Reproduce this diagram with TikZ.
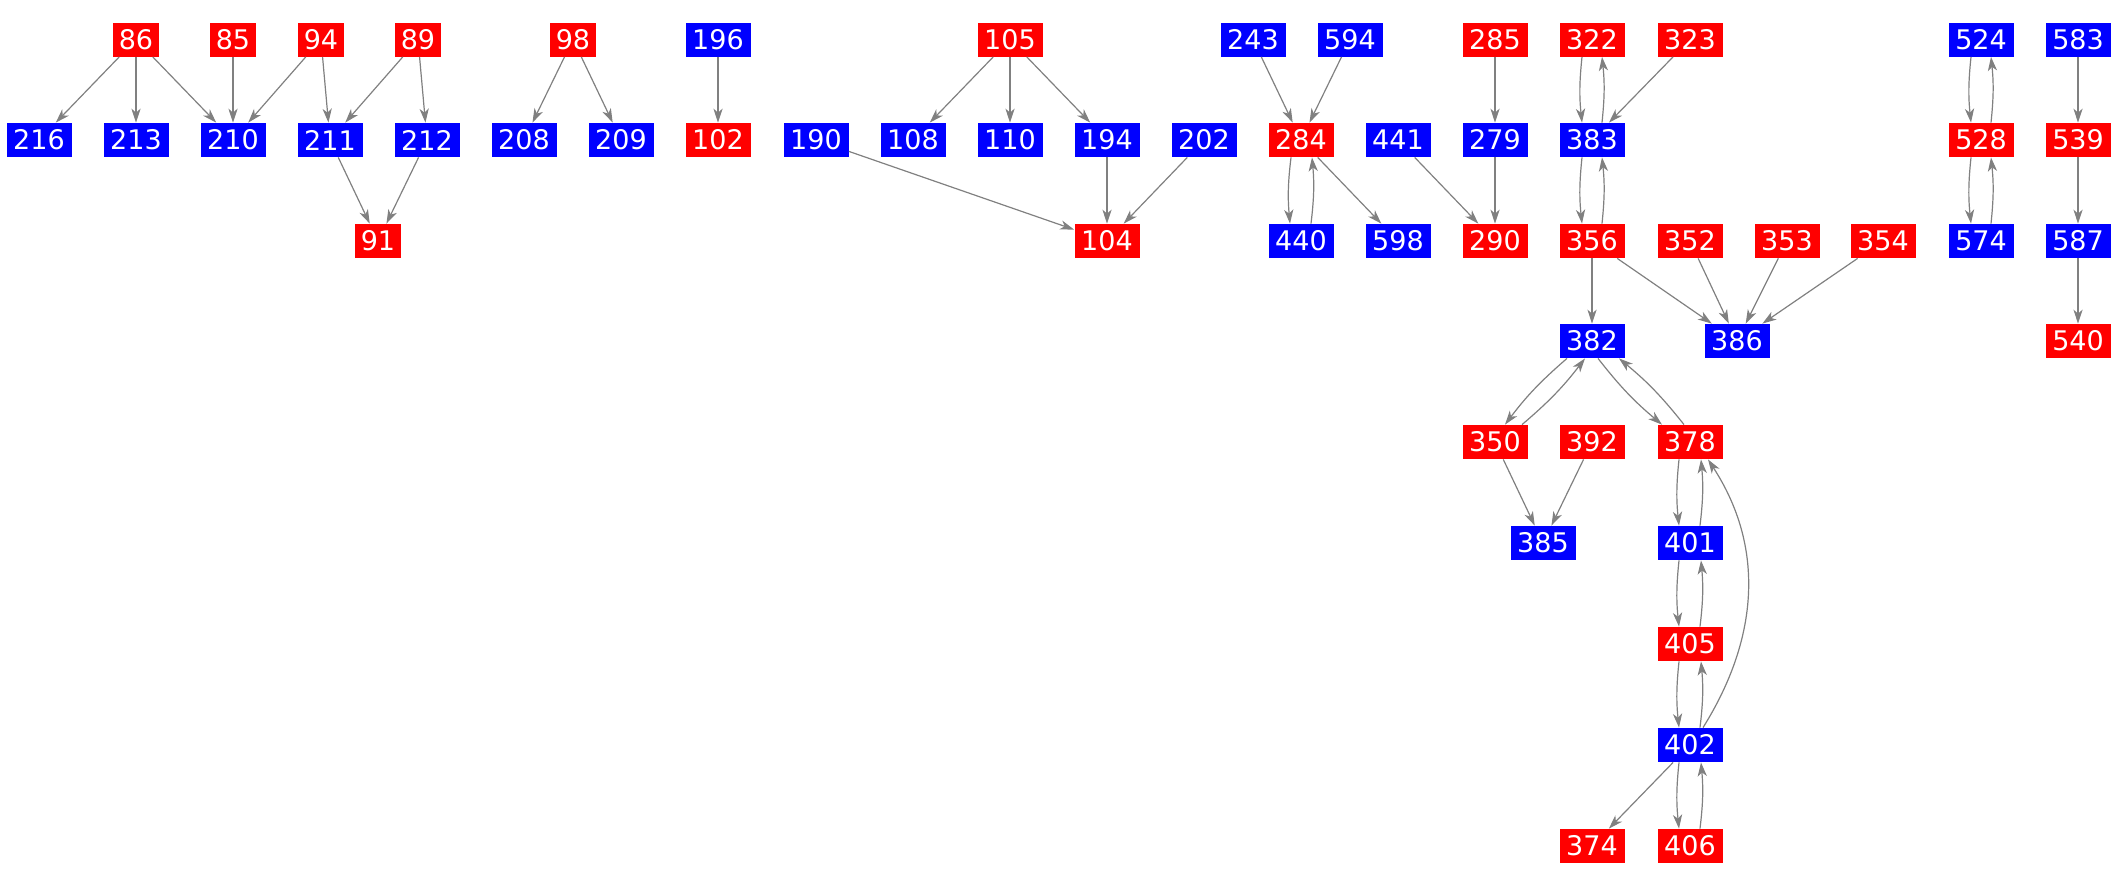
\documentclass[tikz,border=0pt]{standalone}
\usepackage{fontspec}
\setmainfont{DejaVu Sans}
\usetikzlibrary{arrows.meta}
\begin{document}
\begin{tikzpicture}[x=0.5pt,y=-0.5pt,
  box/.style={rectangle, text=white, minimum height=17pt, minimum width=32.5pt, inner sep=0pt, font=\fontsize{13.5}{14}\selectfont},
  nr/.style={box, fill=red},
  nb/.style={box, fill=blue},
  w2/.style={minimum width=23pt},
  e/.style={draw=gray, line width=0.6pt, -{Stealth[length=7pt,width=4.6pt,inset=2pt]}},
  pr/.style={e, bend right=6}]
\useasboundingbox (0,0) rectangle (2117,885);
% row 1
\node[nr,w2] (n86) at (136,39.5) {86};
\node[nr,w2] (n85) at (233,39.5) {85};
\node[nr,w2] (n94) at (321,39.5) {94};
\node[nr,w2] (n89) at (418,39.5) {89};
\node[nr,w2] (n98) at (573,39.5) {98};
\node[nb] (n196) at (718,39.5) {196};
\node[nr] (n105) at (1010,39.5) {105};
\node[nb] (n243) at (1253,39.5) {243};
\node[nb] (n594) at (1350,39.5) {594};
\node[nr] (n285) at (1495,39.5) {285};
\node[nr] (n322) at (1592,39.5) {322};
\node[nr] (n323) at (1690,39.5) {323};
\node[nb] (n524) at (1981,39.5) {524};
\node[nb] (n583) at (2078,39.5) {583};
% row 2
\node[nb] (n216) at (39,140) {216};
\node[nb] (n213) at (136,140) {213};
\node[nb] (n210) at (233,140) {210};
\node[nb] (n211) at (330,140) {211};
\node[nb] (n212) at (427,140) {212};
\node[nb] (n208) at (524,140) {208};
\node[nb] (n209) at (621,140) {209};
\node[nr] (n102) at (718,140) {102};
\node[nb] (n190) at (816,140) {190};
\node[nb] (n108) at (913,140) {108};
\node[nb] (n110) at (1010,140) {110};
\node[nb] (n194) at (1107,140) {194};
\node[nb] (n202) at (1204,140) {202};
\node[nr] (n284) at (1301,140) {284};
\node[nb] (n441) at (1398,140) {441};
\node[nb] (n279) at (1495,140) {279};
\node[nb] (n383) at (1592,140) {383};
\node[nr] (n528) at (1981,140) {528};
\node[nr] (n539) at (2078,140) {539};
% row 3
\node[nr,w2] (n91) at (378,241) {91};
\node[nr] (n104) at (1107,241) {104};
\node[nb] (n440) at (1301,241) {440};
\node[nb] (n598) at (1398,241) {598};
\node[nr] (n290) at (1495,241) {290};
\node[nr] (n356) at (1592,241) {356};
\node[nr] (n352) at (1690,241) {352};
\node[nr] (n353) at (1787,241) {353};
\node[nr] (n354) at (1883,241) {354};
\node[nb] (n574) at (1981,241) {574};
\node[nb] (n587) at (2078,241) {587};
% row 4
\node[nb] (n382) at (1592,341) {382};
\node[nb] (n386) at (1737,341) {386};
\node[nr] (n540) at (2078,341) {540};
% row 5
\node[nr] (n350) at (1495,442) {350};
\node[nr] (n392) at (1592,442) {392};
\node[nr] (n378) at (1690,442) {378};
% row 6
\node[nb] (n385) at (1543,543) {385};
\node[nb] (n401) at (1690,543) {401};
% row 7
\node[nr] (n405) at (1690,644) {405};
% row 8
\node[nb] (n402) at (1690,745) {402};
% row 9
\node[nr] (n374) at (1592,846) {374};
\node[nr] (n406) at (1690,846) {406};
% edges
\draw[e] (n86) -- (n216);
\draw[e] (n86) -- (n213);
\draw[e] (n86) -- (n210);
\draw[e] (n85) -- (n210);
\draw[e] (n94) -- (n210);
\draw[e] (n94) -- (n211);
\draw[e] (n89) -- (n211);
\draw[e] (n89) -- (n212);
\draw[e] (n211) -- (n91);
\draw[e] (n212) -- (n91);
\draw[e] (n98) -- (n208);
\draw[e] (n98) -- (n209);
\draw[e] (n196) -- (n102);
\draw[e] (n105) -- (n108);
\draw[e] (n105) -- (n110);
\draw[e] (n105) -- (n194);
\draw[e] (n190) -- (n104);
\draw[e] (n194) -- (n104);
\draw[e] (n202) -- (n104);
\draw[e] (n243) -- (n284);
\draw[e] (n594) -- (n284);
\draw[pr] ([xshift=-5pt]n284.south) to ([xshift=-5.5pt]n440.north);
\draw[pr] ([xshift=5pt]n440.north) to ([xshift=5.5pt]n284.south);
\draw[e] (n284) -- (n598);
\draw[e] (n285) -- (n279);
\draw[e] (n279) -- (n290);
\draw[e] (n441) -- (n290);
\draw[pr] ([xshift=-5pt]n322.south) to ([xshift=-5pt]n383.north);
\draw[pr] ([xshift=5pt]n383.north) to ([xshift=5pt]n322.south);
\draw[e] (n323) -- (n383);
\draw[pr] ([xshift=-5pt]n383.south) to ([xshift=-5pt]n356.north);
\draw[pr] ([xshift=5pt]n356.north) to ([xshift=5pt]n383.south);
\draw[e] (n356) -- (n382);
\draw[e] (n356) -- (n386);
\draw[e] (n352) -- (n386);
\draw[e] (n353) -- (n386);
\draw[e] (n354) -- (n386);
\draw[pr] ([xshift=-12.5pt]n382.south) to ([xshift=5pt]n350.north);
\draw[pr] ([xshift=13.5pt]n350.north) to ([xshift=-3.5pt]n382.south);
\draw[pr] ([xshift=3pt]n382.south) to ([xshift=-14pt]n378.north);
\draw[pr] ([xshift=-3pt]n378.north) to ([xshift=13.5pt]n382.south);
\draw[e] (n350) -- (n385);
\draw[e] (n392) -- (n385);
\draw[pr] ([xshift=-5.5pt]n378.south) to ([xshift=-5.5pt]n401.north);
\draw[pr] ([xshift=5pt]n401.north) to ([xshift=5.5pt]n378.south);
\draw[pr] ([xshift=-5.5pt]n401.south) to ([xshift=-5.5pt]n405.north);
\draw[pr] ([xshift=5pt]n405.north) to ([xshift=5.5pt]n401.south);
\draw[pr] ([xshift=-5.5pt]n405.south) to ([xshift=-5.5pt]n402.north);
\draw[pr] ([xshift=5pt]n402.north) to ([xshift=5.5pt]n405.south);
\draw[e] ([xshift=6.5pt]n402.north) to[out=58,in=-57] ([xshift=9pt]n378.south);
\draw[e] (n402) -- (n374);
\draw[pr] ([xshift=-5.5pt]n402.south) to ([xshift=-5.5pt]n406.north);
\draw[pr] ([xshift=5pt]n406.north) to ([xshift=5.5pt]n402.south);
\draw[pr] ([xshift=-5pt]n524.south) to ([xshift=-5pt]n528.north);
\draw[pr] ([xshift=5pt]n528.north) to ([xshift=5pt]n524.south);
\draw[pr] ([xshift=-5pt]n528.south) to ([xshift=-5pt]n574.north);
\draw[pr] ([xshift=5pt]n574.north) to ([xshift=5pt]n528.south);
\draw[e] (n583) -- (n539);
\draw[e] (n539) -- (n587);
\draw[e] (n587) -- (n540);
\end{tikzpicture}
\end{document}
